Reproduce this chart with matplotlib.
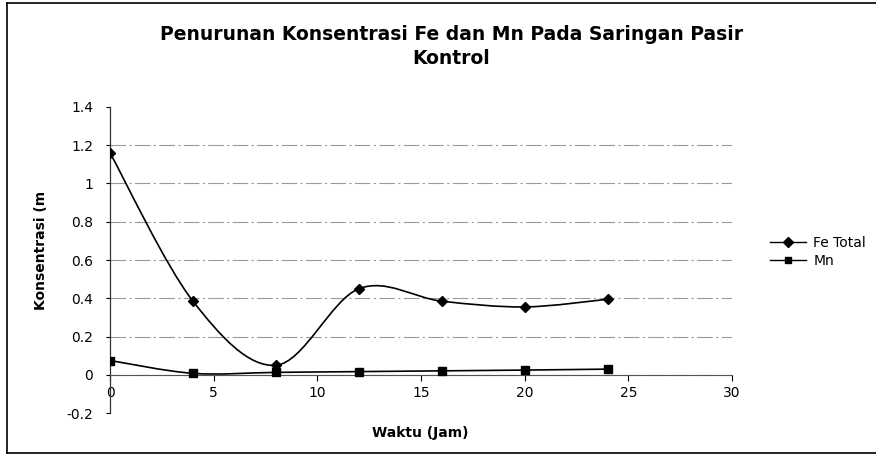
import matplotlib
matplotlib.use("Agg")
import matplotlib.pyplot as plt
from matplotlib.path import Path
from matplotlib.patches import PathPatch
from matplotlib.lines import Line2D
import numpy as np

plt.rcParams['font.family'] = ['DejaVu Sans']

waktu = [0, 4, 8, 12, 16, 20, 24]
fe_total = [1.16, 0.385, 0.05, 0.45, 0.385, 0.355, 0.395]
mn = [0.075, 0.008, 0.013, 0.017, 0.021, 0.025, 0.03]
x_ticks = [0, 5, 10, 15, 20, 25, 30]
y_ticks = [-0.2, 0, 0.2, 0.4, 0.6, 0.8, 1, 1.2, 1.4]
y_ticklabels = ["-0.2", "0", "0.2", "0.4", "0.6", "0.8", "1", "1.2", "1.4"]
title = "Penurunan Konsentrasi Fe dan Mn Pada Saringan Pasir\nKontrol"


def smooth_path(xs, ys):
    p = np.column_stack([xs, ys]).astype(float)
    n = len(p)
    verts = [p[0]]
    codes = [Path.MOVETO]
    for i in range(n - 1):
        prev = p[i - 1] if i > 0 else p[i]
        nxt2 = p[i + 2] if i + 2 < n else p[i + 1]
        c1 = p[i] + (p[i + 1] - prev) / 6.0
        c2 = p[i + 1] - (nxt2 - p[i]) / 6.0
        verts += [c1, c2, p[i + 1]]
        codes += [Path.CURVE4] * 3
    return Path(verts, codes)


fig = plt.figure(figsize=(8.76, 4.55), dpi=100)
# outer chart frame (left, top, bottom; right edge falls outside the picture)
for xs_, ys_ in [([0.008, 0.008], [0.004, 0.993]),
                 ([0.008, 1.0], [0.993, 0.993]),
                 ([0.008, 1.0], [0.004, 0.004])]:
    fig.add_artist(Line2D(xs_, ys_, transform=fig.transFigure, color='black', linewidth=1.2))

ax = fig.add_axes([0.1256, 0.092, 0.71, 0.673])
ax.set_xlim(0, 30)
ax.set_ylim(-0.2, 1.4)

for yv in y_ticks:
    if -0.2 < yv < 1.4:
        ax.axhline(yv, color='#9a9a9a', linewidth=0.8, linestyle=(0, (14, 3, 2, 3)), zorder=0)

for ys, mk, ms in [(fe_total, 'D', 5.5), (mn, 's', 5.5)]:
    ax.add_patch(PathPatch(smooth_path(waktu, ys), facecolor='none', edgecolor='black',
                           linewidth=1.2, zorder=2))
    ax.plot(waktu, ys, linestyle='none', marker=mk, markersize=ms, color='black', zorder=3)

ax.spines['top'].set_visible(False)
ax.spines['right'].set_visible(False)
ax.spines['bottom'].set_position(('data', 0))
ax.spines['left'].set_color('#333333')
ax.spines['bottom'].set_color('#555555')
ax.spines['left'].set_linewidth(0.9)
ax.spines['bottom'].set_linewidth(0.8)

ax.set_xticks(x_ticks)
ax.set_xticklabels([str(v) for v in x_ticks], fontsize=10)
ax.set_yticks(y_ticks)
ax.set_yticklabels(y_ticklabels, fontsize=10)
ax.tick_params(axis='x', direction='out', length=4, width=0.8, pad=4)
ax.tick_params(axis='y', direction='out', length=3, width=0.8, pad=9)

fig.text(0.515, 0.897, title, ha='center', va='center', fontsize=13.5, fontweight='bold',
         linespacing=1.35)
fig.text(0.48, 0.048, "Waktu (Jam)", ha='center', va='center', fontsize=10, fontweight='bold')
fig.text(0.047, 0.45, "Konsentrasi (m", ha='center', va='center', fontsize=10,
         fontweight='bold', rotation=90)

handles = [Line2D([], [], color='black', marker='D', markersize=5, linewidth=1.0),
           Line2D([], [], color='black', marker='s', markersize=5, linewidth=1.0)]
fig.legend(handles, ["Fe Total", "Mn"], loc='center left', bbox_to_anchor=(0.868, 0.447),
           frameon=False, fontsize=10, handlelength=2.6, handletextpad=0.5,
           labelspacing=0.3, borderpad=0.2)

fig.savefig("out.png", dpi=100)
